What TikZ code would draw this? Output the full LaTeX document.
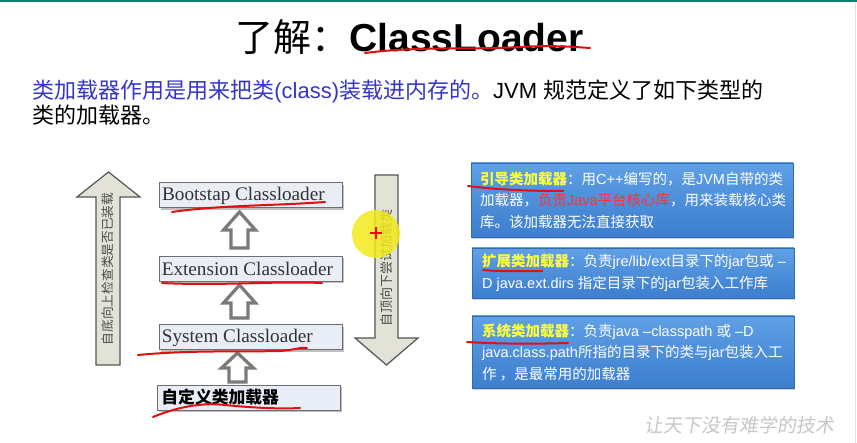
\documentclass[tikz,border=0pt]{standalone}
\usepackage{fontspec}
\setmainfont{Liberation Sans}
\newfontfamily\cjk{Noto Sans CJK SC}
\newfontfamily\cjkslant[FakeSlant=0.15]{Noto Sans CJK SC}
\newfontfamily\serifrm{Liberation Serif}
\usetikzlibrary{shadows,calc}

\definecolor{topbar}{HTML}{12806E}
\definecolor{subblue}{HTML}{3535C8}
\definecolor{arrowfill}{HTML}{E2E3D6}
\definecolor{arrowline}{HTML}{555555}
\definecolor{boxfill}{HTML}{E9EDF5}
\definecolor{boxline}{HTML}{6E6E6E}
\definecolor{hollow}{HTML}{7A7A7A}
\definecolor{ink}{HTML}{E01010}
\definecolor{paneltop}{HTML}{5FA0E6}
\definecolor{panelbot}{HTML}{3D7ECE}
\definecolor{labelyellow}{HTML}{FFFF3C}
\definecolor{hotred}{HTML}{FF3434}
\definecolor{marker}{HTML}{F3EA1C}

\newcommand{\zh}[1]{{\cjk #1}}
% hollow block arrow pointing up: centre x, tip y, head base y, tail y
\newcommand{\hollowup}[4]{%
  \draw[hollowarrow] (#1,#2) -- (#1+16,#3) -- (#1+8.5,#3) -- (#1+8.5,#4)
    -- (#1-8.5,#4) -- (#1-8.5,#3) -- (#1-16,#3) -- cycle;}

\begin{document}
\begin{tikzpicture}[x=0.5pt,y=-0.5pt,
  loaderbox/.style={draw=boxline, line width=0.5pt, fill=boxfill,
    minimum width=91.5pt, minimum height=12.5pt, inner sep=0pt,
    drop shadow={shadow xshift=0.8pt, shadow yshift=-0.8pt, opacity=0.5}},
  loadertext/.style={anchor=west, inner sep=0pt,
    font=\serifrm\fontsize{9.6}{11}\selectfont, text=black!80},
  bigarrow/.style={draw=arrowline, line width=0.6pt, fill=arrowfill},
  arrowtext/.style={rotate=90, inner sep=0pt, text=black!70},
  hollowarrow/.style={draw=hollow, line width=1.6pt, fill=white},
  panel/.style={top color=paneltop, bottom color=panelbot,
    draw=panelbot!85!black, line width=0.3pt, minimum width=161pt, inner sep=0pt,
    drop shadow={shadow xshift=0.6pt, shadow yshift=-1.2pt, opacity=0.35}},
  paneltext/.style={anchor=west, inner sep=0pt, align=left, text=white,
    font=\fontsize{7.25}{10.75}\selectfont},
  scribble/.style={draw=ink, line width=1pt, line cap=round},
]
% page
\fill[white] (0,0) rectangle (857,443);
\useasboundingbox (0,0) rectangle (857,443);
\fill[topbar] (0,0) rectangle (857,2.5);
\draw[black!12, line width=0.4pt] (855.5,3) -- (855.5,443);

% title and introduction
\node[anchor=base west, inner sep=0pt] (title) at (235,52)
  {\fontsize{19}{22}\selectfont\zh{了解：}\bfseries\fontsize{19.5}{22}\selectfont ClassLoader};
\node[anchor=north west, inner sep=0pt, align=left,
      font=\fontsize{11}{11.5}\selectfont] (intro) at (32,79)
  {\textcolor{subblue}{\zh{类加载器作用是用来把类}(class)\zh{装载进内存的。}}JVM \zh{规范定义了如下类型的}\\
   \zh{类的加载器。}};

% direction arrows
\draw[bigarrow] (96,365) -- (96,197) -- (77,197) -- (108.5,172) -- (140,197)
  -- (120,197) -- (120,365) -- cycle;
\node[arrowtext, font=\cjk\fontsize{6.35}{7}\selectfont] (uptext) at (108,269)
  {自底向上检查类是否已装载};
\draw[bigarrow] (375,175) -- (398,175) -- (398,338) -- (418,338) -- (386.5,365)
  -- (355,338) -- (375,338) -- cycle;
\node[arrowtext, font=\cjk\fontsize{6.5}{7}\selectfont] (downtext) at (387,268)
  {自顶向下尝试加载类};

% loader hierarchy
\node[loaderbox] (boot) at (250.5,195.5) {};
\node[loadertext] (boottext) at ([xshift=1.6pt]boot.west) {Bootstap Classloader};
\node[loaderbox] (ext) at (251,269) {};
\node[loadertext] (exttext) at ([xshift=1.2pt]ext.west) {Extension Classloader};
\node[loaderbox] (sys) at (250.5,337.5) {};
\node[loadertext] (systext) at ([xshift=1.5pt]sys.west) {System Classloader};
\node[loaderbox] (user) at (249,397.5) {};
\node[loadertext, font=\cjk\bfseries\fontsize{8.4}{10}\selectfont, text=black]
  (usertext) at ([xshift=2pt]user.west) {自定义类加载器};

\hollowup{239.5}{212}{230}{248}
\hollowup{239.5}{285}{303}{318}
\hollowup{237.5}{353}{368}{382}

% description panels
\node[panel, minimum height=37pt] (bootpanel) at (632,200) {};
\node[paneltext] (bootdesc) at ([xshift=4.5pt]bootpanel.west)
  {\textcolor{labelyellow}{\cjk\bfseries 引导类加载器}\zh{：用}C++\zh{编写的，是}JVM\zh{自带的类}\\
   \zh{加载器，}\textcolor{hotred}{\zh{负责}Java\zh{平台核心库}}\zh{，用来装载核心类}\\
   \zh{库。该加载器无法直接获取}};
\node[panel, minimum height=25pt] (extpanel) at (633,273) {};
\node[paneltext] (extdesc) at ([xshift=5pt]extpanel.west)
  {\textcolor{labelyellow}{\cjk\bfseries 扩展类加载器}\zh{：负责}jre/lib/ext\zh{目录下的}jar\zh{包或} –\\
   D java.ext.dirs \zh{指定目录下的}jar\zh{包装入工作库}};
\node[panel, minimum height=36pt] (syspanel) at (633,352) {};
\node[paneltext] (sysdesc) at ([xshift=5pt]syspanel.west)
  {\textcolor{labelyellow}{\cjk\bfseries 系统类加载器}\zh{：负责}java –classpath \zh{或} –D\\
   java.class.path\zh{所指的目录下的类与}jar\zh{包装入工}\\
   \zh{作 ，是最常用的加载器}};

% footer slogan
\node[inner sep=0pt, text=black!22, font=\cjkslant\fontsize{9.5}{10}\selectfont]
  (slogan) at (739,425) {让天下没有难学的技术};

% pointer highlight
\fill[marker, fill opacity=0.85] (376,234) circle[radius=12pt];
\draw[red, line width=0.8pt] (370,233) -- (382,233) (376,227) -- (376,239);

% hand-drawn underlines
\draw[scribble] (365,53) .. controls (420,46) and (470,50) .. (520,47)
  .. controls (550,45) and (575,47) .. (590,48);
\draw[scribble] (172,212) .. controls (220,205) and (270,206) .. (325,202);
\draw[scribble] (162,283) .. controls (220,286) and (270,281) .. (322,283);
\draw[scribble] (138,355) .. controls (190,350) and (240,352) .. (280,351)
  .. controls (295,350) and (300,347) .. (307,348);
\draw[scribble] (153,417) .. controls (175,408) and (200,402) .. (225,405)
  .. controls (255,408) and (280,409) .. (300,408);
\draw[scribble] (468,186) .. controls (500,190) and (530,191) .. (563,191);
\draw[scribble] (483,270) .. controls (505,272) and (525,271) .. (542,271);
\draw[scribble] (467,342) .. controls (500,344) and (535,344) .. (568,343);
\end{tikzpicture}
\end{document}
